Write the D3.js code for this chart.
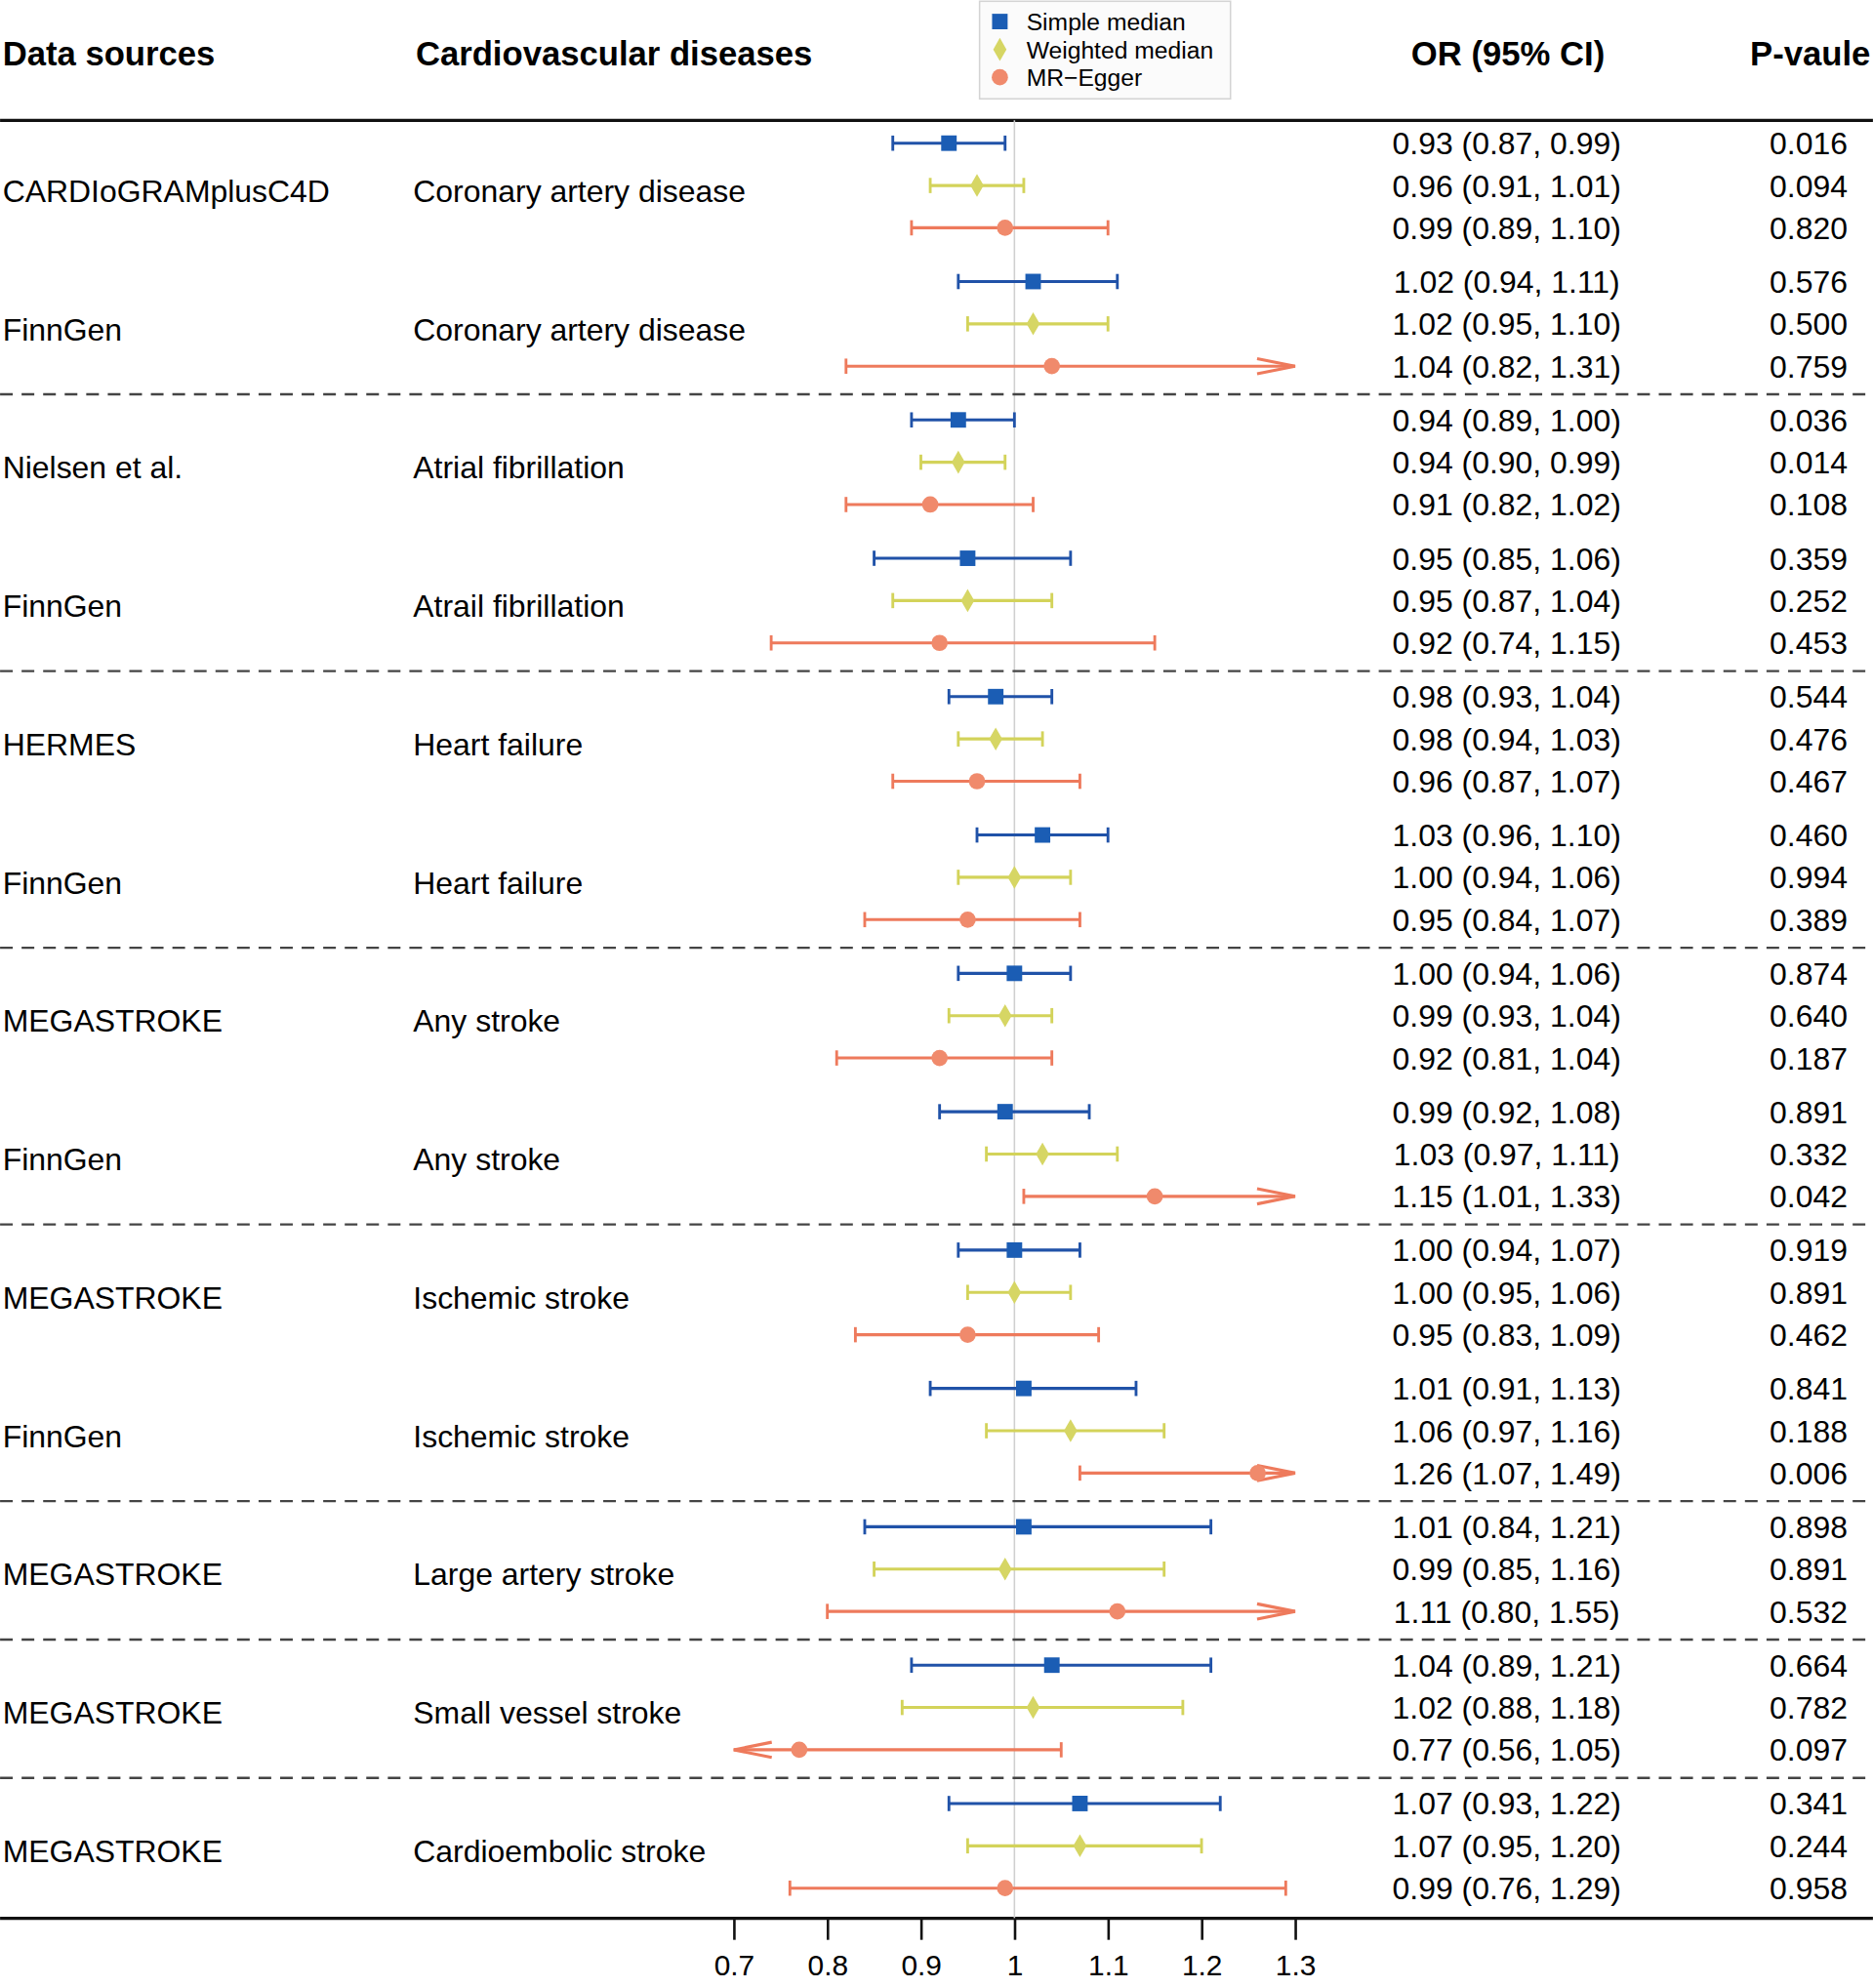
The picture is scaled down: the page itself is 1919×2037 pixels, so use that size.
<!DOCTYPE html>
<html>
<head>
<meta charset="utf-8">
<script src="https://cdn.jsdelivr.net/npm/d3@7"></script>
<style>
body { margin: 0; background: #fff; }
text { font-family: "Liberation Sans", Arial, sans-serif; fill: #000; }
</style>
</head>
<body>
<div id="chart-area"></div>
<script>
const sources = ["CARDIoGRAMplusC4D", "FinnGen", "Nielsen et al.", "FinnGen", "HERMES", "FinnGen",
    "MEGASTROKE", "FinnGen", "MEGASTROKE", "FinnGen", "MEGASTROKE", "MEGASTROKE", "MEGASTROKE"];
const diseases = ["Coronary artery disease", "Coronary artery disease", "Atrial fibrillation", "Atrail fibrillation",
    "Heart failure", "Heart failure", "Any stroke", "Any stroke", "Ischemic stroke", "Ischemic stroke",
    "Large artery stroke", "Small vessel stroke", "Cardioembolic stroke"];
const methods = ["Simple median", "Weighted median", "MR\u2212Egger"];

// one row per study, columns = simple median, weighted median, MR-Egger
const orVals = [
    [0.93, 0.96, 0.99], [1.02, 1.02, 1.04], [0.94, 0.94, 0.91], [0.95, 0.95, 0.92],
    [0.98, 0.98, 0.96], [1.03, 1.00, 0.95], [1.00, 0.99, 0.92], [0.99, 1.03, 1.15],
    [1.00, 1.00, 0.95], [1.01, 1.06, 1.26], [1.01, 0.99, 1.11], [1.04, 1.02, 0.77],
    [1.07, 1.07, 0.99]];
const ciLow = [
    [0.87, 0.91, 0.89], [0.94, 0.95, 0.82], [0.89, 0.90, 0.82], [0.85, 0.87, 0.74],
    [0.93, 0.94, 0.87], [0.96, 0.94, 0.84], [0.94, 0.93, 0.81], [0.92, 0.97, 1.01],
    [0.94, 0.95, 0.83], [0.91, 0.97, 1.07], [0.84, 0.85, 0.80], [0.89, 0.88, 0.56],
    [0.93, 0.95, 0.76]];
const ciHigh = [
    [0.99, 1.01, 1.10], [1.11, 1.10, 1.31], [1.00, 0.99, 1.02], [1.06, 1.04, 1.15],
    [1.04, 1.03, 1.07], [1.10, 1.06, 1.07], [1.06, 1.04, 1.04], [1.08, 1.11, 1.33],
    [1.07, 1.06, 1.09], [1.13, 1.16, 1.49], [1.21, 1.16, 1.55], [1.21, 1.18, 1.05],
    [1.22, 1.20, 1.29]];
const pVals = [
    [0.016, 0.094, 0.820], [0.576, 0.500, 0.759], [0.036, 0.014, 0.108], [0.359, 0.252, 0.453],
    [0.544, 0.476, 0.467], [0.460, 0.994, 0.389], [0.874, 0.640, 0.187], [0.891, 0.332, 0.042],
    [0.919, 0.891, 0.462], [0.841, 0.188, 0.006], [0.898, 0.891, 0.532], [0.664, 0.782, 0.097],
    [0.341, 0.244, 0.958]];
const dashedAfter = [1, 3, 5, 7, 9, 10, 11];
const xTicks = [0.7, 0.8, 0.9, 1, 1.1, 1.2, 1.3];

const lineColors = ["#2052a8", "#d3d35a", "#ee7a5c"];
const markColors = ["#1b5db4", "#d6d664", "#f08a6c"];

// layout is worked in a 1478 wide frame and scaled up by the viewBox
const W = 1478, H = 1569;
const svg = d3.select("#chart-area").append("svg")
    .attr("width", 1919)
    .attr("height", 2037)
    .attr("viewBox", `0 0 ${W} ${H}`);

const topRule = 95, bottomRule = 1514;
const x = d3.scaleLinear().domain([0.7, 1.3]).range([579, 1022]);
const yStudy = d3.scaleLinear().domain([0, 12]).range([113, 113 + 12 * 109.2]);
const yRow = d3.scaleLinear().domain([0, 2]).range([0, 66.8]);
const rowY = (t, k) => yStudy(t) + yRow(k);

// headers
const head = svg.append("g").attr("font-weight", "bold").attr("font-size", 26.7);
head.append("text").attr("x", 2).attr("y", 42).attr("dy", "0.36em").text("Data sources");
head.append("text").attr("x", 328).attr("y", 42).attr("dy", "0.36em").text("Cardiovascular diseases");
head.append("text").attr("x", 1190).attr("y", 42).attr("dy", "0.36em").attr("text-anchor", "middle").text("OR (95% CI)");
head.append("text").attr("x", 1476).attr("y", 42).attr("dy", "0.36em").attr("text-anchor", "end").text("P-vaule");

// legend
const leg = svg.append("g");
leg.append("rect").attr("x", 773).attr("y", 1).attr("width", 198).attr("height", 77)
    .attr("fill", "#fbfbfb").attr("stroke", "#d4d4d4").attr("stroke-width", 1.2);
const symbols = [d3.symbolSquare, d3.symbolDiamond, d3.symbolCircle];
const symSize = [150, 95, 130];
methods.forEach((m, k) => {
    const ly = 17 + k * 22;
    leg.append("path")
        .attr("d", d3.symbol(symbols[k], symSize[k])())
        .attr("transform", `translate(789, ${ly})`)
        .attr("fill", markColors[k]);
    leg.append("text").attr("x", 810).attr("y", ly).attr("dy", "0.36em")
        .attr("font-size", 19).text(m);
});

// rules
svg.append("line").attr("x1", 0).attr("x2", W).attr("y1", topRule).attr("y2", topRule)
    .attr("stroke", "#111").attr("stroke-width", 2.4);
svg.append("line").attr("x1", 0).attr("x2", W).attr("y1", bottomRule).attr("y2", bottomRule)
    .attr("stroke", "#111").attr("stroke-width", 2.4);
svg.append("line").attr("x1", x(1)).attr("x2", x(1)).attr("y1", topRule).attr("y2", bottomRule)
    .attr("stroke", "#cfcfcf").attr("stroke-width", 1.2);

dashedAfter.forEach(t => {
    const yy = (rowY(t, 2) + rowY(t + 1, 0)) / 2 + 1;
    svg.append("line").attr("x1", 0).attr("x2", W).attr("y1", yy).attr("y2", yy)
        .attr("stroke", "#444").attr("stroke-width", 1.8).attr("stroke-dasharray", "10,7");
});

// study labels
const lab = svg.append("g").attr("font-size", 24.6);
sources.forEach((s, t) => {
    lab.append("text").attr("x", 2).attr("y", rowY(t, 1) + 4).attr("dy", "0.36em").text(s);
    lab.append("text").attr("x", 326).attr("y", rowY(t, 1) + 4).attr("dy", "0.36em").text(diseases[t]);
});

// estimates
const rows = [];
sources.forEach((s, t) => methods.forEach((m, k) => rows.push({
    t, k, or: orVals[t][k], lo: ciLow[t][k], hi: ciHigh[t][k], p: pVals[t][k]
})));

const f2 = d3.format(".2f"), f3 = d3.format(".3f");
const marks = svg.append("g");
const [xMin, xMax] = x.domain();
rows.forEach(d => {
    const y = rowY(d.t, d.k);
    const x1 = x(Math.max(d.lo, xMin)), x2 = x(Math.min(d.hi, xMax));
    const col = lineColors[d.k];
    marks.append("line").attr("x1", x1).attr("x2", x2).attr("y1", y).attr("y2", y)
        .attr("stroke", col).attr("stroke-width", 2.4);
    if (d.lo >= xMin) {
        marks.append("line").attr("x1", x1).attr("x2", x1).attr("y1", y - 6).attr("y2", y + 6)
            .attr("stroke", col).attr("stroke-width", 2.2);
    } else {
        marks.append("path").attr("d", `M${x1 + 30},${y - 6}L${x1},${y}L${x1 + 30},${y + 6}`)
            .attr("fill", "none").attr("stroke", col).attr("stroke-width", 2.4);
    }
    if (d.hi <= xMax) {
        marks.append("line").attr("x1", x2).attr("x2", x2).attr("y1", y - 6).attr("y2", y + 6)
            .attr("stroke", col).attr("stroke-width", 2.2);
    } else {
        marks.append("path").attr("d", `M${x2 - 30},${y - 6}L${x2},${y}L${x2 - 30},${y + 6}`)
            .attr("fill", "none").attr("stroke", col).attr("stroke-width", 2.4);
    }
    marks.append("path")
        .attr("d", d3.symbol(symbols[d.k], symSize[d.k])())
        .attr("transform", `translate(${x(d.or)}, ${y})`)
        .attr("fill", markColors[d.k]);

    lab.append("text").attr("x", 1189).attr("y", y).attr("dy", "0.36em").attr("text-anchor", "middle")
        .text(`${f2(d.or)} (${f2(d.lo)}, ${f2(d.hi)})`);
    lab.append("text").attr("x", 1458).attr("y", y).attr("dy", "0.36em").attr("text-anchor", "end")
        .text(f3(d.p));
});

// x axis
const xAxisCall = d3.axisBottom(x)
    .tickValues(xTicks)
    .tickSize(17)
    .tickPadding(12)
    .tickFormat(d => d === 1 ? "1" : d3.format(".1f")(d));
const ax = svg.append("g")
    .attr("transform", `translate(0, ${bottomRule})`)
    .call(xAxisCall);
ax.select(".domain").remove();
ax.selectAll(".tick line").attr("stroke", "#111").attr("stroke-width", 2);
ax.selectAll(".tick text").attr("font-size", 23).attr("font-family", "Liberation Sans, Arial, sans-serif").attr("fill", "#000");
</script>
</body>
</html>
